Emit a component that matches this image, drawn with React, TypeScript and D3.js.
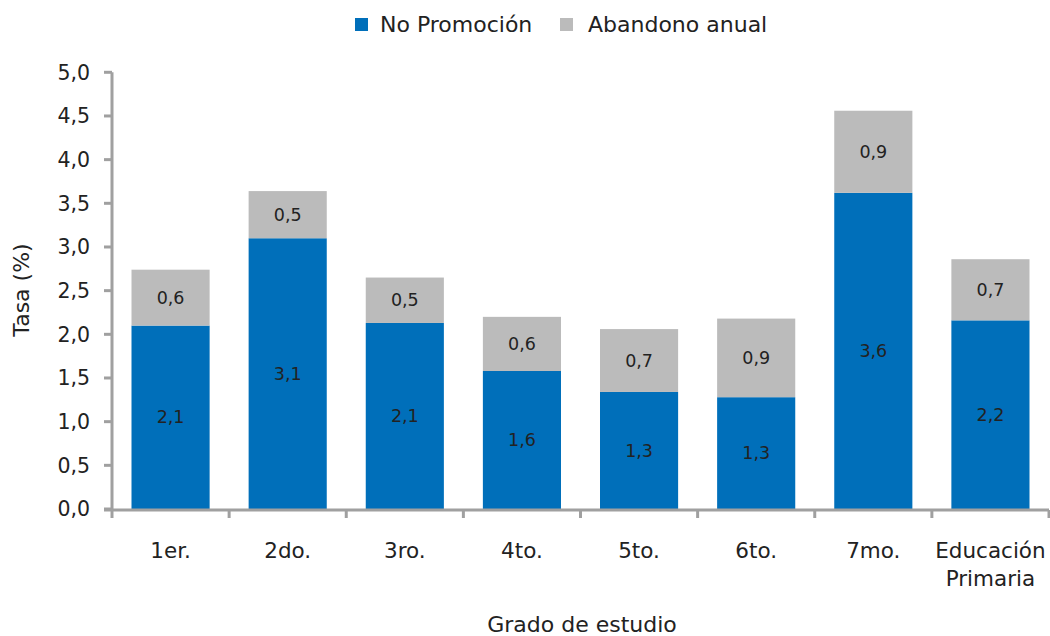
import React from "react";
import * as d3 from "d3";

const categories = ["1er.", "2do.", "3ro.", "4to.", "5to.", "6to.", "7mo.", "Educación\nPrimaria"];
const noPromocion = [2.1, 3.1, 2.13, 1.58, 1.34, 1.28, 3.62, 2.16];
const abandono = [0.64, 0.54, 0.52, 0.62, 0.72, 0.9, 0.94, 0.7];
const yTicks = [0, 0.5, 1, 1.5, 2, 2.5, 3, 3.5, 4, 4.5, 5];
const seriesNames = ["No Promoción", "Abandono anual"];
const colors = ["#006FBA", "#BBBBBB"];

const W = 1050, H = 636;
const m = { left: 112, right: 1049, top: 72.3, bottom: 509 };
const FONT = "'DejaVu Sans', sans-serif";
const AX = "#A0A0A0";

export default function App() {
  const x = d3.scaleBand<string>().domain(categories).range([m.left, m.right]).paddingInner(0.333).paddingOuter(0.1665);
  const y = d3.scaleLinear().domain([0, 5]).range([m.bottom, m.top]);
  const fmt = (v: number) => d3.format(".1f")(v).replace(".", ",");
  const step = x.step();
  const stackData = categories.map((c, i) => ({ c, a: noPromocion[i], b: abandono[i] }));
  const stack = d3.stack<any>().keys(["a", "b"])(stackData);

  return (
    <svg width={W} height={H} style={{ position: "absolute", left: 0, top: 0, background: "#fff" }} fontFamily={FONT}>
      {/* legend */}
      <rect x={355} y={18} width={13} height={13} fill={colors[0]} />
      <text x={380} y={32} fontSize={22} fill="#222">{seriesNames[0]}</text>
      <rect x={560} y={18} width={13} height={13} fill={colors[1]} />
      <text x={588} y={32} fontSize={22} fill="#222">{seriesNames[1]}</text>

      {/* bars */}
      {stack.map((layer, li) => (
        <g key={li}>
          {layer.map((d, i) => {
            const bx = x(categories[i])!;
            const y0 = y(d[0]);
            const y1 = y(d[1]);
            return (
              <g key={i}>
                <rect x={bx} y={y1} width={x.bandwidth()} height={y0 - y1} fill={colors[li]} />
                <text x={bx + x.bandwidth() / 2} y={(y0 + y1) / 2} dy="0.35em" textAnchor="middle" fontSize={17.5} fill="#222">
                  {fmt(d[1] - d[0])}
                </text>
              </g>
            );
          })}
        </g>
      ))}

      {/* y axis */}
      <line x1={m.left} x2={m.left} y1={m.top} y2={m.bottom} stroke={AX} strokeWidth={3} />
      {yTicks.map((t) => (
        <g key={t}>
          <line x1={m.left - 8} x2={m.left} y1={y(t)} y2={y(t)} stroke={AX} strokeWidth={3} />
          <text x={90} y={y(t)} dy="0.36em" textAnchor="end" fontSize={20.5} fill="#222">{fmt(t)}</text>
        </g>
      ))}

      {/* x axis */}
      <line x1={m.left - 8} x2={m.right} y1={m.bottom + 1} y2={m.bottom + 1} stroke={AX} strokeWidth={3} />
      {d3.range(categories.length + 1).map((i) => (
        <line key={i} x1={m.left + i * step} x2={m.left + i * step} y1={m.bottom + 1} y2={m.bottom + 9} stroke={AX} strokeWidth={3} />
      ))}
      {categories.map((c) => {
        const cx = x(c)! + x.bandwidth() / 2;
        return (
          <text key={c} x={cx} y={558} textAnchor="middle" fontSize={21.5} fill="#222">
            {c.split("\n").map((ln, k) => (
              <tspan key={k} x={cx} dy={k === 0 ? 0 : 28}>{ln}</tspan>
            ))}
          </text>
        );
      })}

      {/* axis titles */}
      <text x={582} y={632} textAnchor="middle" fontSize={22} fill="#222">Grado de estudio</text>
      <text transform={`translate(29,290) rotate(-90)`} textAnchor="middle" fontSize={22} fill="#222">Tasa (%)</text>
    </svg>
  );
}
